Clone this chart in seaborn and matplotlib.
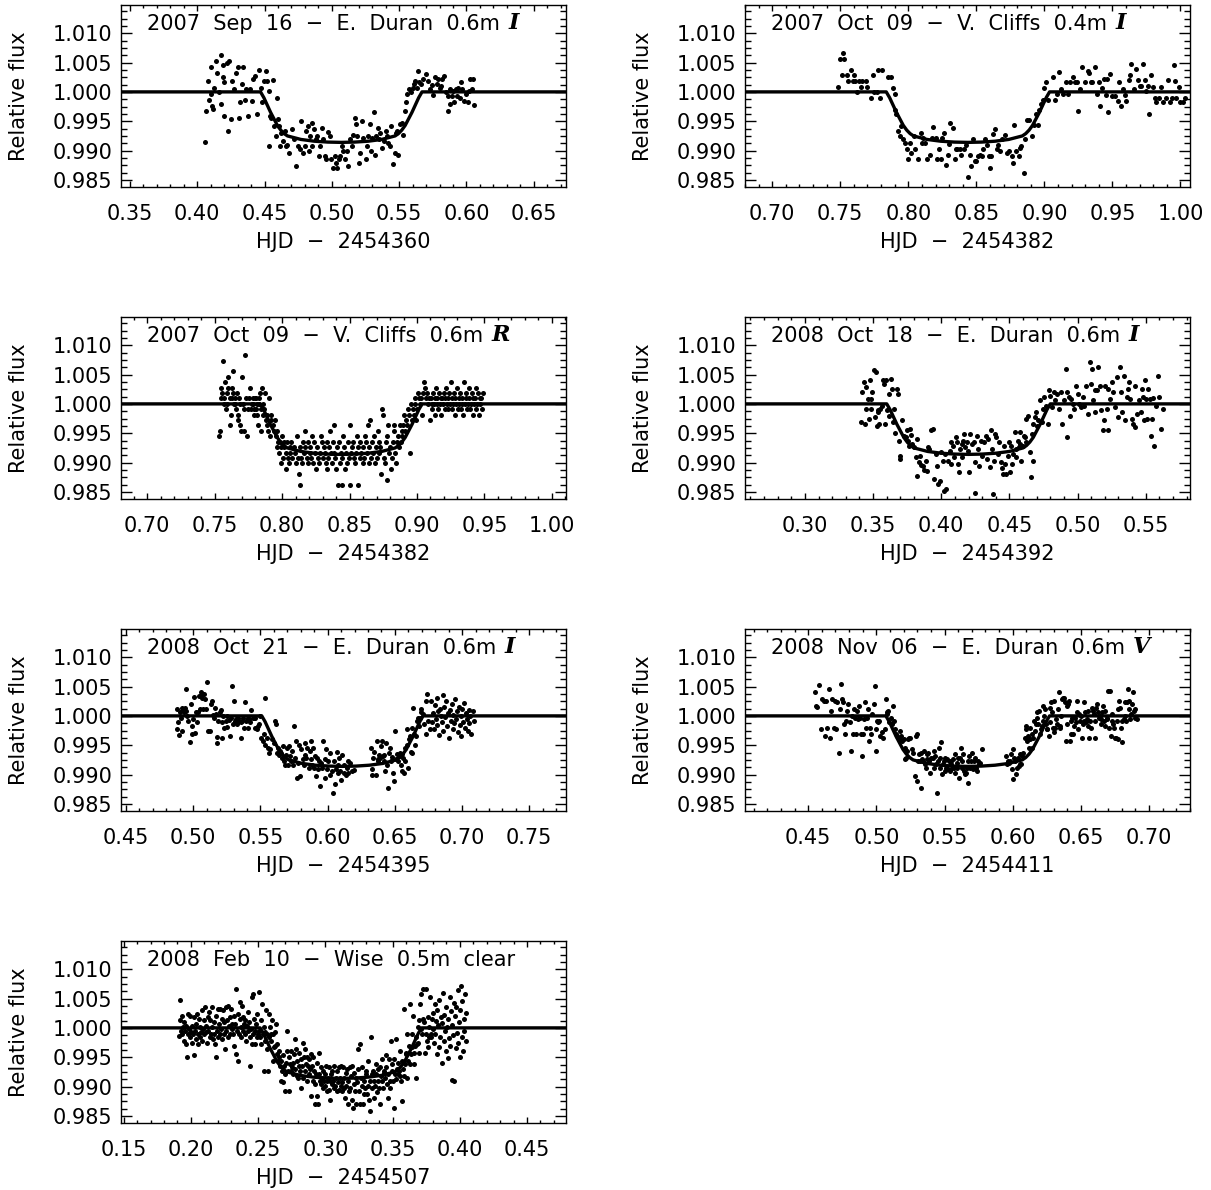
import matplotlib
matplotlib.use("Agg")
import matplotlib.pyplot as plt
import seaborn as sns
from matplotlib.ticker import MultipleLocator, FormatStrFormatter

# ---------------- data (HJD offset, relative flux) ----------------
sep16_pts = [(0.406,0.9914),(0.4065,0.9967),(0.4076,1.0019),(0.409,0.9987),(0.410,0.9996),(0.4105,1.0042),(0.411,0.9976),(0.412,0.9971),(0.4126,1.0007),(0.414,1.0053),(0.415,1.0033),(0.416,0.9999),(0.4175,1.0062),(0.4178,0.9979),(0.419,1.0045),(0.4194,1.0026),(0.4197,0.9959),(0.420,1.0016),(0.422,1.0050),(0.423,0.9933),(0.4235,1.0053),(0.425,0.9953),(0.426,1.0019),(0.427,1.0005),(0.4285,1.0033),(0.430,1.0042),(0.431,0.9956),(0.432,0.9982),(0.433,1.0013),(0.434,1.0042),(0.4355,0.9987),(0.4365,1.0005),(0.438,0.9959),(0.439,1.0005),(0.4405,0.9985),(0.4415,1.0022),(0.443,1.0027),(0.4445,0.9962),(0.446,1.0038),(0.447,1.0007),(0.448,0.9982),(0.4495,1.0019),(0.451,1.0036),(0.452,1.0019),(0.453,1.0002),(0.4535,0.9907),(0.454,0.9959),(0.455,0.9956),(0.456,1.0021),(0.457,0.9942),(0.4585,0.9925),(0.4595,0.9990),(0.460,0.9953),(0.461,0.9942),(0.4615,0.9907),(0.4625,0.9930),(0.464,0.9916),(0.465,0.9933),(0.466,0.9907),(0.467,0.9910),(0.4685,0.9896),(0.4705,0.9937),(0.472,0.9919),(0.4735,0.9873),(0.475,0.9907),(0.476,0.9902),(0.477,0.9950),(0.4785,0.9896),(0.480,0.9907),(0.481,0.9933),(0.482,0.9942),(0.483,0.9899),(0.484,0.9925),(0.485,0.9947),(0.4855,0.9907),(0.487,0.9936),(0.488,0.9920),(0.489,0.9925),(0.4905,0.9890),(0.4915,0.9907),(0.4925,0.9939),(0.4935,0.9920),(0.495,0.9890),(0.496,0.9885),(0.497,0.9931),(0.4985,0.9925),(0.4995,0.9885),(0.501,0.9870),(0.502,0.9890),(0.503,0.9879),(0.504,0.9870),(0.505,0.9885),(0.506,0.9890),(0.5075,0.9907),(0.5085,0.9899),(0.510,0.9885),(0.511,0.9899),(0.512,0.9873),(0.5135,0.9919),(0.515,0.9907),(0.5155,0.9927),(0.517,0.9956),(0.518,0.9945),(0.519,0.9925),(0.520,0.9879),(0.521,0.9896),(0.5225,0.9950),(0.5235,0.9922),(0.525,0.9885),(0.526,0.9907),(0.527,0.9925),(0.528,0.9945),(0.529,0.9899),(0.530,0.9922),(0.531,0.9965),(0.532,0.9893),(0.533,0.9925),(0.534,0.9939),(0.535,0.9919),(0.536,0.9930),(0.5375,0.9905),(0.5385,0.9916),(0.540,0.9933),(0.541,0.9925),(0.542,0.9913),(0.543,0.9907),(0.5443,0.9942),(0.5455,0.9878),(0.547,0.9896),(0.548,0.9930),(0.5485,0.9933),(0.5495,0.9893),(0.551,0.9945),(0.552,0.9947),(0.553,0.9927),(0.554,0.9967),(0.555,0.9982),(0.556,0.9996),(0.557,1.0005),(0.5585,0.9999),(0.560,1.0007),(0.561,1.0013),(0.562,1.0019),(0.563,1.0007),(0.564,1.0036),(0.565,1.0016),(0.5665,1.0013),(0.568,1.0022),(0.570,1.0030),(0.5715,1.0018),(0.573,1.0005),(0.5745,1.0012),(0.5755,0.9995),(0.5767,1.0025),(0.578,1.0013),(0.579,1.0022),(0.580,1.0007),(0.581,1.0010),(0.582,1.0022),(0.583,1.0027),(0.5845,0.9999),(0.586,0.9967),(0.5865,0.9993),(0.5875,1.0005),(0.588,0.9979),(0.589,0.9993),(0.590,1.0002),(0.591,0.9982),(0.592,1.0005),(0.593,0.9993),(0.594,1.0007),(0.595,0.9990),(0.596,1.0016),(0.597,1.0005),(0.598,0.9985),(0.5995,0.9996),(0.601,0.9982),(0.602,1.0002),(0.603,1.0022),(0.604,1.0005),(0.605,1.0022),(0.6055,0.9977)]

oct09a_pts = [(0.748,1.0009),(0.7495,1.0056),(0.751,1.0029),(0.752,1.0066),(0.753,1.0056),(0.755,1.0029),(0.756,1.0019),(0.758,1.0037),(0.759,1.0019),(0.760,1.0029),(0.761,1.0019),(0.7625,0.9999),(0.764,1.0019),(0.765,1.0009),(0.766,1.0019),(0.769,1.0019),(0.770,1.0009),(0.7725,0.9989),(0.774,1.0029),(0.775,0.9999),(0.777,0.9999),(0.778,1.0037),(0.779,0.9989),(0.781,1.0037),(0.785,1.0026),(0.787,1.0026),(0.789,1.0007),(0.7905,0.9997),(0.790,0.9970),(0.791,0.9962),(0.7925,0.9933),(0.794,0.9925),(0.795,0.9942),(0.796,0.9919),(0.7975,0.9913),(0.799,0.9902),(0.800,0.9886),(0.801,0.9913),(0.802,0.9896),(0.804,0.9925),(0.805,0.9903),(0.807,0.9886),(0.809,0.9930),(0.810,0.9913),(0.811,0.9922),(0.8125,0.9913),(0.814,0.9886),(0.816,0.9893),(0.8175,0.9922),(0.818,0.9941),(0.820,0.9922),(0.821,0.9886),(0.8225,0.9903),(0.824,0.9886),(0.825,0.9922),(0.826,0.9930),(0.8275,0.9875),(0.829,0.9893),(0.830,0.9912),(0.831,0.9947),(0.8325,0.9939),(0.834,0.9885),(0.835,0.9902),(0.836,0.9902),(0.838,0.9902),(0.839,0.9893),(0.841,0.9902),(0.8425,0.9910),(0.844,0.9855),(0.845,0.9893),(0.846,0.9873),(0.8475,0.9919),(0.849,0.9882),(0.850,0.9882),(0.851,0.9890),(0.8525,0.9893),(0.854,0.9890),(0.855,0.9902),(0.856,0.9919),(0.8575,0.9909),(0.859,0.9890),(0.860,0.9870),(0.861,0.9890),(0.8625,0.9929),(0.864,0.9937),(0.865,0.9902),(0.866,0.9909),(0.8675,0.9899),(0.869,0.9919),(0.871,0.9926),(0.8725,0.9896),(0.874,0.9899),(0.876,0.9890),(0.877,0.9879),(0.878,0.9943),(0.8795,0.9899),(0.881,0.9890),(0.882,0.9905),(0.883,0.9907),(0.885,0.9861),(0.886,0.9920),(0.8875,0.9952),(0.889,0.9952),(0.891,0.9925),(0.892,0.9943),(0.894,0.9962),(0.895,0.9943),(0.896,0.9970),(0.8975,0.9979),(0.899,0.9987),(0.900,1.0006),(0.901,1.0016),(0.903,0.9987),(0.906,1.0025),(0.9075,0.9987),(0.909,0.9996),(0.911,1.0034),(0.9125,1.0005),(0.914,0.9996),(0.916,1.0016),(0.9175,0.9996),(0.919,1.0016),(0.921,1.0025),(0.9225,1.0016),(0.924,1.0016),(0.925,0.9967),(0.926,1.0005),(0.928,1.0042),(0.930,1.0016),(0.932,1.0036),(0.933,1.0033),(0.934,1.0016),(0.935,1.0016),(0.937,1.0042),(0.939,0.9996),(0.940,1.0016),(0.941,0.9976),(0.9425,1.0007),(0.944,1.0022),(0.945,0.9994),(0.946,1.0022),(0.947,0.9966),(0.948,1.0030),(0.950,0.9993),(0.952,0.9993),(0.954,0.9985),(0.955,1.0017),(0.956,0.9976),(0.9575,1.0005),(0.959,0.9994),(0.960,0.9985),(0.962,1.0021),(0.963,1.0029),(0.964,1.0047),(0.966,1.0005),(0.967,1.0039),(0.969,1.0021),(0.970,1.0010),(0.971,1.0010),(0.9725,1.0047),(0.974,1.0021),(0.9745,1.0002),(0.976,1.0010),(0.977,0.9963),(0.978,1.0029),(0.980,1.0009),(0.981,0.9990),(0.982,0.9982),(0.984,0.9990),(0.986,1.0009),(0.9875,0.9982),(0.989,0.9990),(0.991,1.0021),(0.992,0.9982),(0.994,0.9990),(0.995,1.0046),(0.996,1.0019),(0.997,0.9990),(0.999,1.0009),(1.000,0.9982),(1.002,0.9982),(1.003,0.9990)]

oct09b_pts = [(0.7529,0.99448),(0.7537,0.9954),(0.7544,1.00092),(0.7549,1.00276),(0.7554,1.00184),(0.7561,1.00736),(0.7568,1.00092),(0.7573,1.00368),(0.7581,0.99908),(0.7588,1.00184),(0.7598,1.0046),(0.7602,1.00276),(0.7610,1.00092),(0.7617,0.99632),(0.7622,0.99816),(0.7629,1.00276),(0.7634,1.00552),(0.7639,1.00184),(0.7646,1.0),(0.7654,1.00092),(0.7659,0.99908),(0.7666,1.00184),(0.7671,0.99816),(0.7676,0.99724),(0.7683,1.00092),(0.7690,0.99632),(0.7695,0.9954),(0.7703,1.0046),(0.7710,1.0),(0.7715,0.9954),(0.7724,1.00828),(0.7732,1.00092),(0.7739,0.99448),(0.7749,0.99908),(0.7756,1.00092),(0.7764,1.00276),(0.7773,1.0),(0.7781,1.00092),(0.7788,0.99816),(0.7793,0.99908),(0.7800,1.00092),(0.7805,0.99908),(0.7812,1.0),(0.7817,0.99816),(0.7822,0.99632),(0.7829,1.00092),(0.7837,1.00184),(0.7842,0.9954),(0.7846,0.99908),(0.7854,1.00276),(0.7861,0.99816),(0.7866,0.99908),(0.7871,1.00184),(0.7878,0.99724),(0.7886,0.99816),(0.7890,0.99632),(0.7895,0.9954),(0.7903,1.00092),(0.7910,0.99448),(0.7915,0.99816),(0.7920,0.99724),(0.7566,1.0),(0.7593,1.0),(0.7627,1.00092),(0.7651,1.0),(0.7688,1.0),(0.7720,0.99908),(0.7768,0.99908),(0.7785,1.0),(0.7808,1.00092),(0.7832,1.0),(0.7859,1.0),
(0.7934,0.99632),(0.7939,0.9954),(0.7947,0.99724),(0.7951,0.99448),(0.7959,0.9954),(0.7964,0.99264),(0.7968,0.99356),(0.7976,0.99172),(0.7983,0.99356),(0.7988,0.98988),(0.7995,0.99264),(0.8000,0.99448),(0.8008,0.9908),(0.8012,0.99356),(0.8017,0.99264),(0.8025,0.99172),(0.8032,0.98896),(0.8037,0.99356),(0.8044,0.9908),(0.8049,0.98988),(0.8056,0.99264),(0.8061,0.99172),(0.8069,0.99356),(0.8076,0.9908),(0.8086,0.99264),
(0.8098,0.99172),(0.8105,0.98988),(0.8110,0.99448),(0.8117,0.9908),(0.8125,0.98804),(0.8130,0.9862),(0.8134,0.99264),(0.8142,0.9908),(0.8149,0.98988),(0.8154,0.99356),(0.8161,0.99172),(0.8169,0.99264),(0.8173,0.9954),(0.8183,0.9908),(0.8191,0.98988),(0.8195,0.99356),(0.8203,0.99264),(0.8208,0.99172),(0.8217,0.9908),(0.8225,0.99448),(0.8232,0.98988),(0.8239,0.99356),(0.8247,0.99172),(0.8252,0.98896),(0.8259,0.99264),(0.8266,0.9908),(0.8273,0.98988),(0.8281,0.99172),(0.8288,0.99448),(0.8295,0.99356),(0.8300,0.9908),(0.8308,0.99264),(0.8315,0.99172),(0.8322,0.98988),(0.8330,0.99356),(0.8334,0.98896),(0.8342,0.9908),(0.8349,0.99264),(0.8356,0.9954),(0.8364,0.99172),(0.8369,0.98988),(0.8376,0.99356),(0.8383,0.99632),(0.8388,0.99172),(0.8395,0.9908),(0.8403,0.98896),(0.8410,0.99264),(0.8417,0.9862),(0.8422,0.99356),(0.8427,0.98988),(0.8435,0.99172),(0.8442,0.9862),(0.8447,0.9908),(0.8452,0.99448),(0.8459,0.99264),(0.8466,0.98896),(0.8471,0.99172),(0.8478,0.98988),(0.8486,0.99356),(0.8493,0.9908),(0.8500,0.9862),(0.8505,0.99632),(0.8513,0.99172),(0.8520,0.99264),(0.8525,0.99356),(0.8532,0.9908),(0.8539,0.98988),(0.8547,0.99172),(0.8554,0.99448),(0.8559,0.99264),(0.8566,0.9862),(0.8574,0.9908),(0.8581,0.99356),(0.8588,0.99172),(0.8596,0.98988),(0.8603,0.99264),(0.8608,0.9908),(0.8615,0.99448),(0.8622,0.99356),(0.8630,0.99172),(0.8637,0.99632),(0.8642,0.98988),(0.8647,0.99264),(0.8654,0.99724),(0.8661,0.9908),(0.8669,0.99356),(0.8676,0.99172),(0.8683,0.99448),(0.8691,0.98988),(0.8696,0.99264),(0.8703,0.9908),(0.8710,0.9954),(0.8715,0.99356),(0.8720,0.99172),(0.8727,0.99264),(0.8735,0.98804),(0.8742,0.99908),(0.8747,0.99816),(0.8754,0.9908),(0.8761,0.98988),(0.8769,0.99356),(0.8774,0.99448),(0.8781,0.98712),(0.8788,0.99632),(0.8793,0.99172),(0.8801,0.99264),(0.8808,0.98896),(0.8813,0.9908),(0.8820,0.99356),(0.8827,0.9954),(0.8832,0.99632),(0.8840,0.99172),(0.8847,0.98988),(0.8854,0.99356),(0.8862,0.99448),(0.8866,0.99264),(0.8871,0.99632),
(0.8879,0.99356),(0.8886,0.99448),(0.8891,0.9954),(0.8898,0.99632),(0.8905,0.99816),(0.8913,0.9954),(0.8920,0.99724),(0.8927,0.99632),(0.8935,0.99908),(0.8942,0.99816),(0.8949,0.99172),(0.8954,1.0),(0.8962,0.99724),(0.8969,0.99908),(0.8976,0.99816),(0.8984,1.00092),(0.8988,1.0),(0.8996,0.99724),(0.9003,0.99908),(0.9008,1.00184),(0.9015,1.00092),(0.9023,1.0),(0.9030,1.00092),(0.9037,0.99816),(0.9045,1.00184),(0.9052,1.00368),(0.9059,1.00276),(0.9066,1.00092),(0.9074,1.00184),(0.9081,1.0),(0.9088,1.00092),(0.9096,0.99724),
(0.9102,1.00092),(0.9108,1.0),(0.9112,0.99908),(0.9118,1.00184),(0.9124,1.0),(0.9130,1.00092),(0.9135,0.99816),(0.9141,1.00276),(0.9147,1.0),(0.9152,1.00092),(0.9158,0.99908),(0.9163,1.00184),(0.9170,1.0),(0.9176,1.00092),(0.9181,0.99816),(0.9187,1.00092),(0.9193,1.0),(0.9199,1.00184),(0.9205,0.99908),(0.9210,1.00092),(0.9216,1.00276),(0.9222,1.0),(0.9228,0.99908),(0.9233,1.00092),(0.9239,1.00184),(0.9245,1.0),(0.9250,1.00368),(0.9256,0.99908),(0.9262,1.00092),(0.9268,1.0),(0.9274,1.00184),(0.9279,0.99816),(0.9285,1.00092),(0.9291,1.0),(0.9297,1.00276),(0.9302,0.99908),(0.9308,1.0),(0.9314,1.00092),(0.9320,1.00184),(0.9325,0.99908),(0.9331,1.0),(0.9337,1.00092),(0.9343,0.99816),(0.9349,1.00368),(0.9354,1.0),(0.9360,1.00092),(0.9366,1.00184),(0.9372,0.99908),(0.9377,1.0),(0.9383,1.00276),(0.9389,1.00092),(0.9395,0.99908),(0.9401,1.0),(0.9406,1.00184),(0.9412,1.00092),(0.9418,0.99816),(0.9424,1.0),(0.9430,1.00092),(0.9435,1.00276),(0.9441,0.99908),(0.9447,1.0),(0.9453,1.00184),(0.9458,0.99816),(0.9464,1.00092),(0.9470,1.0),(0.9476,1.00092),(0.9482,0.99908),(0.9488,1.00184)]

oct18_pts = [(0.3413,0.9970),(0.342,1.0020),(0.343,1.0038),(0.3438,0.9966),(0.3445,0.9991),(0.345,1.0028),(0.3463,1.0009),(0.347,0.9974),(0.3475,1.0040),(0.3483,1.0009),(0.3488,0.9991),(0.3495,1.0020),(0.3505,1.0057),(0.3513,0.9977),(0.352,1.0055),(0.3525,0.9963),(0.3533,0.9986),(0.3538,0.9989),(0.3545,0.9966),(0.355,0.9991),(0.3563,0.9997),(0.3575,1.0040),(0.3583,1.0034),(0.3588,0.9966),(0.3595,1.0040),(0.360,0.9989),(0.3613,0.9980),(0.362,1.0017),(0.363,1.0043),(0.3638,1.0026),(0.3645,0.9969),(0.3655,0.9991),(0.3663,0.9951),(0.3675,1.0026),(0.3683,1.0017),
(0.3688,0.9937),(0.3695,0.9912),(0.370,0.9906),(0.3713,0.9972),(0.3725,0.9946),(0.3738,0.9943),(0.375,0.9956),(0.3755,0.9937),(0.3763,0.9929),(0.377,0.9957),(0.3775,0.9947),(0.3788,0.9932),(0.380,0.9926),(0.3813,0.9909),(0.382,0.9878),(0.3825,0.9940),(0.3838,0.9901),(0.3845,0.9912),(0.385,0.9896),(0.3863,0.9895),(0.3875,0.9887),(0.3888,0.9903),(0.3895,0.9885),(0.390,0.9926),(0.3913,0.9924),(0.3925,0.9956),(0.3938,0.9957),(0.395,0.9872),(0.3963,0.9915),(0.397,0.9895),(0.3975,0.9864),(0.3988,0.9869),(0.400,0.9918),(0.4013,0.9903),(0.402,0.9852),(0.403,0.9915),(0.4038,0.9855),(0.405,0.9903),(0.4063,0.9920),(0.407,0.9898),(0.4075,0.9935),(0.4088,0.9929),(0.4095,0.9909),(0.4105,0.9943),(0.4113,0.9935),(0.412,0.9898),(0.413,0.9884),(0.4138,0.9923),(0.415,0.9932),(0.4155,0.9909),(0.4163,0.9937),(0.417,0.9949),(0.4175,0.9926),(0.4188,0.9935),(0.4195,0.9920),(0.420,0.9884),(0.4213,0.9949),(0.4225,0.9932),(0.4238,0.9935),(0.4245,0.9901),(0.425,0.9849),(0.4263,0.9946),(0.427,0.9923),(0.428,0.9895),(0.4288,0.9937),(0.430,0.9912),(0.4313,0.9935),(0.4325,0.9946),(0.4338,0.9906),(0.4345,0.9940),(0.4355,0.9892),(0.4363,0.9955),(0.437,0.9923),(0.438,0.9847),(0.4388,0.9903),(0.4395,0.9949),(0.440,0.9943),(0.4413,0.9915),(0.4425,0.9935),(0.4438,0.9901),(0.4445,0.9890),(0.445,0.9881),(0.4463,0.9929),(0.447,0.9898),(0.4475,0.9881),(0.4488,0.9912),(0.4495,0.9935),(0.4505,0.9884),(0.4513,0.9929),(0.452,0.9898),(0.4525,0.9915),(0.4538,0.9952),(0.4545,0.9923),(0.455,0.9909),(0.4563,0.9937),(0.457,0.9926),(0.4575,0.9932),(0.458,0.9952),(0.4588,0.9903),(0.460,0.9929),(0.4605,0.9946),(0.4613,0.9943),(0.462,0.9974),(0.4625,0.9935),(0.4638,0.9980),(0.465,0.9918),(0.4655,0.9875),(0.4663,0.9949),(0.467,0.9903),(0.4675,0.9966),(0.4688,0.9977),(0.4695,0.9986),(0.4705,0.9963),(0.4713,0.9972),(0.4725,1.0006),(0.4738,0.9969),(0.475,0.9991),(0.4755,1.0011),(0.477,0.9997),(0.478,0.9966),(0.4788,1.0023),(0.480,1.0014),
(0.4813,0.9994),(0.4825,1.0020),(0.4838,1.0006),(0.485,1.0017),(0.4863,0.9991),(0.4875,1.0020),(0.4888,0.9966),(0.490,1.0006),(0.4913,1.0060),(0.492,0.9943),(0.4925,1.0020),(0.4938,1.0011),(0.4945,0.9980),(0.495,1.0009),(0.4963,1.0000),(0.4975,0.9991),(0.4988,1.0031),(0.500,1.0017),(0.5013,1.0000),(0.5025,0.9994),(0.5038,1.0011),(0.505,0.9997),(0.5063,1.0031),(0.5075,0.9983),(0.5088,1.0071),(0.510,1.0034),(0.5105,1.0060),(0.5113,1.0006),(0.5125,0.9986),(0.513,1.0023),(0.5145,1.0023),(0.515,1.0062),(0.5163,1.0031),(0.5175,0.9989),(0.5188,0.9955),(0.5195,0.9972),(0.5205,1.0031),(0.5213,0.9991),(0.522,0.9955),(0.5225,1.0026),(0.5238,1.0009),(0.525,1.0037),(0.5263,1.0020),(0.5275,0.9994),(0.5288,1.0045),(0.530,0.9977),(0.5313,1.0062),(0.532,1.0020),(0.5325,0.9986),(0.5338,1.0048),(0.535,0.9972),(0.5363,1.0011),(0.537,1.0026),(0.538,1.0037),(0.5388,1.0009),(0.540,0.9974),(0.5405,0.9966),(0.542,0.9960),(0.5425,1.0031),(0.5438,0.9983),(0.545,1.0006),(0.5463,0.9986),(0.547,1.0026),(0.548,1.0011),(0.5488,0.9972),(0.5495,1.0040),(0.5505,1.0009),(0.5513,0.9974),(0.552,1.0026),(0.553,1.0009),(0.5538,0.9946),(0.5545,0.9974),(0.555,1.0010),(0.5563,0.9929),(0.5575,0.9997),(0.5588,1.0048),(0.560,1.0011),(0.5613,0.9957),(0.5625,0.9991)]

oct21_pts = [(0.4878,1.0011),(0.4883,0.9977),(0.4890,0.9989),(0.4895,0.9967),(0.4902,1.0006),(0.4907,0.9997),(0.4915,0.9974),(0.4920,1.0014),(0.4927,1.0010),(0.4932,1.0006),(0.4939,1.0013),(0.4944,1.0009),(0.4949,1.0046),(0.4957,1.0000),(0.4964,0.9991),(0.4974,0.9956),(0.4981,1.0020),(0.4989,0.9983),(0.4994,0.9969),(0.5001,0.9994),(0.5008,1.0033),(0.5013,0.9971),(0.5018,1.0006),(0.5026,0.9990),(0.5033,1.0006),(0.5043,1.0034),(0.5048,1.0011),(0.5055,1.0040),(0.5063,1.0030),(0.5068,1.0038),(0.5075,1.0011),(0.5083,1.0038),(0.5088,1.0029),(0.5097,1.0011),(0.5105,1.0057),(0.5112,0.9975),(0.5122,0.9975),(0.5130,1.0020),(0.5137,1.0026),(0.5147,1.0002),(0.5154,0.9997),(0.5162,1.0013),(0.5167,1.0004),(0.5174,0.9964),(0.5179,0.9953),(0.5186,0.9991),(0.5196,1.0007),(0.5204,1.0010),(0.5211,0.9962),(0.5216,0.9989),(0.5221,1.0000),(0.5231,0.9980),(0.5241,0.9991),(0.5248,0.9981),(0.5255,1.0000),(0.5265,0.9993),(0.5273,0.9966),(0.5283,0.9997),(0.5290,1.0051),(0.5297,0.9986),(0.5305,1.0026),(0.5310,0.9991),(0.5320,0.9994),(0.5327,0.9986),(0.5335,0.9997),(0.5344,0.9991),(0.5352,0.9989),(0.5359,0.9963),(0.5364,0.9991),(0.5372,0.9997),(0.5379,0.9980),(0.5389,1.0023),(0.5396,0.9991),(0.5404,0.9997),(0.5409,0.9980),(0.5418,0.9994),(0.5426,0.9989),(0.5433,1.0010),(0.5443,0.9997),(0.5451,0.9997),(0.5458,0.9980),(0.5463,0.9996),(0.5475,0.9977),(0.5483,0.9983),(0.5493,0.9986),(0.5500,1.0000),(0.5507,0.9962),(0.5517,0.9957),(0.5525,0.9969),(0.5532,1.0031),(0.5537,0.9951),(0.5549,0.9963),(0.5557,0.9945),(0.5567,0.9937),(0.5574,0.9944),(0.5586,0.9960),(0.5599,0.9954),(0.5606,0.9991),(0.5616,0.9986),(0.5624,0.9937),(0.5631,0.9946),(0.5636,0.9934),(0.5643,0.9940),(0.5651,0.9937),(0.5661,0.9929),(0.5668,0.9949),(0.5675,0.9923),(0.5685,0.9916),(0.5690,0.9934),(0.5698,0.9946),(0.5705,0.9916),(0.5710,0.9949),(0.5717,0.9931),(0.5725,0.9923),(0.5735,0.9940),(0.5742,0.9917),(0.5749,0.9983),(0.5759,0.9929),(0.5767,0.9957),(0.5774,0.9894),(0.5779,0.9920),(0.5789,0.9951),(0.5796,0.9897),(0.5804,0.9943),(0.5814,0.9926),(0.5821,0.9917),(0.5829,0.9954),(0.5833,0.9934),(0.5841,0.9929),(0.5848,0.9946),(0.5858,0.9911),(0.5866,0.9940),(0.5873,0.9957),(0.5878,0.9926),(0.5883,0.9917),(0.5890,0.9946),(0.5898,0.9911),(0.5908,0.9931),(0.5915,0.9897),(0.5922,0.9929),(0.5932,0.9909),(0.5937,0.9923),(0.5945,0.9880),(0.5952,0.9920),(0.5959,0.9911),(0.5969,0.9958),(0.5977,0.9926),(0.5982,0.9894),(0.5989,0.9943),(0.5996,0.9909),(0.6006,0.9923),(0.6014,0.9900),(0.6021,0.9937),(0.6031,0.9906),(0.6038,0.9869),(0.6046,0.9923),(0.6056,0.9884),(0.6061,0.9909),(0.6068,0.9939),(0.6076,0.9903),(0.6080,0.9917),(0.6088,0.9929),(0.6095,0.9906),(0.6100,0.9891),(0.6110,0.9934),(0.6118,0.9903),(0.6125,0.9917),(0.6135,0.9900),(0.6142,0.9911),(0.6150,0.9903),(0.6155,0.9923),(0.6167,0.9920),(0.6179,0.9906),(0.6194,0.9907),
(0.6323,0.9946),(0.6327,0.9900),(0.6332,0.9909),(0.6340,0.9929),(0.6347,0.9939),(0.6357,0.9899),(0.6365,0.9958),(0.6372,0.9923),(0.6377,0.9926),(0.6382,0.9934),(0.6389,0.9929),(0.6394,0.9949),(0.6402,0.9957),(0.6409,0.9931),(0.6416,0.9923),(0.6421,0.9934),(0.6426,0.9906),(0.6431,0.9954),(0.6439,0.9917),(0.6446,0.9877),(0.6456,0.9937),(0.6463,0.9946),(0.6471,0.9924),(0.6481,0.9930),(0.6488,0.9903),(0.6495,0.9889),(0.6500,0.9974),(0.6505,0.9926),(0.6513,0.9935),(0.6520,0.9923),(0.6530,0.9931),(0.6537,0.9937),(0.6545,0.9917),(0.6550,0.9906),(0.6555,0.9935),(0.6562,0.9929),(0.6570,0.9903),(0.6574,0.9945),(0.6579,0.9923),(0.6587,0.9951),(0.6594,0.9977),(0.6599,0.9911),(0.6604,0.9960),(0.6612,0.9966),(0.6619,0.9939),(0.6624,0.9937),(0.6631,0.9980),(0.6636,1.0014),(0.6644,0.9969),(0.6649,0.9951),(0.6656,0.9966),(0.6663,0.9991),(0.6673,0.9997),(0.6678,0.9983),(0.6686,0.9996),(0.6693,1.0011),(0.6698,1.0006),(0.6710,1.0003),(0.6718,0.9986),(0.6728,0.9969),(0.6735,1.0026),(0.6742,1.0038),(0.6747,0.9991),(0.6760,0.9977),(0.6767,1.0026),(0.6777,0.9989),
(0.6785,1.0005),(0.6792,0.9978),(0.6798,1.0018),(0.6803,0.9995),(0.6810,1.0030),(0.6815,0.9985),(0.6822,1.0008),(0.6828,0.9968),(0.6835,1.0012),(0.6842,1.0000),(0.6848,0.9990),(0.6855,1.0035),(0.6860,0.9975),(0.6868,1.0015),(0.6875,0.9998),(0.6882,1.0025),(0.6888,0.9982),(0.6895,1.0005),(0.6902,0.9962),(0.6908,1.0010),(0.6915,0.9992),(0.6922,1.0020),(0.6930,0.9978),(0.6935,1.0002),(0.6942,0.9988),(0.6950,1.0028),(0.6955,0.9995),(0.6962,1.0008),(0.6970,0.9972),(0.6975,1.0015),(0.6982,0.9985),(0.6990,1.0000),(0.6995,0.9965),(0.7002,1.0012),(0.7010,0.9990),(0.7015,1.0022),(0.7022,0.9980),(0.7030,1.0005),(0.7035,0.9995),(0.7042,0.9975),(0.7050,1.0010),(0.7055,0.9988),(0.7062,1.0000),(0.7070,0.9970),(0.7078,1.0008),(0.7085,0.9992)]

nov06_pts = [(0.455,1.0040),(0.4558,1.0017),(0.4568,1.0015),(0.458,1.0053),(0.4595,0.9977),(0.4605,1.0028),(0.4613,1.0026),(0.462,0.9966),(0.463,1.0026),(0.4638,0.9980),(0.465,1.0045),(0.4658,0.9963),(0.467,1.0009),(0.4675,1.0028),(0.4688,0.9980),(0.4695,1.0026),(0.4705,0.9977),(0.4713,1.0023),(0.4725,0.9937),(0.473,1.0011),(0.4738,1.0054),(0.4745,1.0028),(0.4755,1.0023),(0.4763,0.9986),(0.477,0.9969),(0.4775,0.9991),(0.4788,1.0009),(0.4795,1.0020),(0.4805,0.9989),(0.4813,0.9940),(0.482,1.0000),(0.483,0.9969),(0.4838,1.0011),(0.4845,0.9997),(0.485,0.9969),(0.4855,1.0009),(0.4863,0.9994),(0.487,1.0017),(0.488,0.9997),(0.4888,0.9969),(0.4895,0.9932),(0.490,0.9969),(0.4913,0.9994),(0.492,1.0023),(0.4925,0.9980),(0.493,0.9997),(0.4938,1.0011),(0.4945,0.9957),(0.4955,0.9980),(0.4963,0.9969),(0.497,1.0003),(0.498,1.0020),(0.4988,1.0051),(0.4995,0.9977),(0.500,0.9940),(0.5005,0.9991),(0.5013,0.9989),(0.502,0.9991),(0.503,0.9966),(0.5038,0.9972),(0.505,0.9963),(0.5063,0.9977),(0.507,1.0028),(0.5075,1.0006),(0.508,1.0003),(0.5088,1.0009),(0.5095,0.9989),(0.5105,0.9997),(0.5113,0.9986),(0.512,1.0017),(0.513,0.9991),
(0.5138,0.9977),(0.5145,0.9969),(0.515,0.9966),(0.5163,0.9963),(0.517,0.9960),(0.5175,0.9974),(0.518,0.9966),(0.5188,0.9957),(0.520,0.9960),(0.5208,0.9946),(0.5213,0.9926),(0.522,0.9929),(0.5225,0.9940),(0.523,0.9960),(0.5238,0.9963),(0.525,0.9963),(0.5263,0.9943),(0.527,0.9937),(0.528,0.9898),(0.5288,0.9966),(0.5295,0.9969),(0.530,0.9889),(0.5305,0.9923),(0.5313,0.9935),(0.532,0.9923),(0.5325,0.9878),(0.533,0.9937),(0.5338,0.9926),(0.5345,0.9923),(0.535,0.9940),(0.5355,0.9918),(0.5363,0.9912),(0.537,0.9935),(0.5375,0.9926),(0.538,0.9937),(0.5388,0.9923),(0.5395,0.9903),(0.540,0.9929),(0.5413,0.9929),(0.542,0.9912),(0.5425,0.9940),(0.5433,0.9932),(0.544,0.9918),(0.5445,0.9869),(0.545,0.9923),(0.5458,0.9946),(0.5465,0.9912),(0.547,0.9929),(0.5475,0.9955),(0.548,0.9901),(0.5488,0.9918),(0.5495,0.9923),(0.550,0.9906),(0.5505,0.9929),(0.5513,0.9912),(0.552,0.9926),(0.5525,0.9909),(0.553,0.9923),(0.5538,0.9906),(0.5545,0.9918),(0.555,0.9923),(0.5558,0.9912),(0.5563,0.9926),(0.557,0.9912),(0.5575,0.9903),(0.558,0.9935),(0.5588,0.9912),(0.5595,0.9920),(0.560,0.9929),(0.5608,0.9895),(0.5613,0.9929),(0.5618,0.9946),(0.5625,0.9912),(0.563,0.9923),(0.5638,0.9935),(0.5645,0.9906),(0.565,0.9901),(0.5655,0.9903),(0.5663,0.9912),(0.567,0.9886),(0.5675,0.9923),(0.5683,0.9932),(0.569,0.9912),(0.5695,0.9923),(0.570,0.9937),(0.5708,0.9909),(0.5715,0.9923),(0.5725,0.9929),(0.573,0.9912),(0.5738,0.9906),(0.5745,0.9923),(0.575,0.9918),(0.5763,0.9920),(0.5775,0.9943),
(0.595,0.9932),(0.5958,0.9918),(0.5965,0.9923),(0.5975,0.9920),(0.598,0.9923),(0.5988,0.9935),(0.5995,0.9909),(0.600,0.9943),(0.6005,0.9892),(0.6013,0.9929),(0.602,0.9923),(0.6025,0.9901),(0.603,0.9912),(0.6038,0.9929),(0.6045,0.9915),(0.605,0.9918),(0.6055,0.9935),(0.6063,0.9918),(0.607,0.9932),(0.6075,0.9937),(0.6088,0.9963),(0.6095,0.9977),(0.610,0.9983),(0.6105,0.9957),(0.6113,0.9966),(0.612,0.9946),(0.6125,0.9980),(0.613,0.9960),(0.6138,0.9969),(0.6145,0.9946),(0.615,0.9963),(0.6155,0.9991),(0.6163,0.9974),(0.617,0.9986),(0.6175,1.0006),(0.618,0.9997),(0.6188,0.9986),(0.6195,1.0009),(0.620,0.9969),(0.6208,0.9977),(0.6213,0.9983),(0.622,1.0017),(0.6225,0.9991),(0.623,1.0000),(0.6238,1.0011),(0.6245,0.9986),(0.625,0.9977),(0.6255,0.9977),(0.6263,0.9966),(0.627,0.9989),
(0.6275,1.0014),(0.6283,1.0023),(0.6288,1.0006),(0.6295,0.9980),(0.630,0.9972),(0.6305,1.0026),(0.6313,0.9980),(0.632,0.9994),(0.6325,0.9986),(0.633,1.0011),(0.6338,1.0040),(0.6345,0.9980),(0.635,0.9983),(0.6355,1.0000),(0.6363,1.0028),(0.637,1.0031),(0.6375,1.0031),(0.638,1.0023),(0.6388,0.9957),(0.6395,1.0017),(0.640,0.9986),(0.6405,1.0020),(0.6413,1.0026),(0.642,0.9957),(0.6425,0.9969),(0.643,0.9991),(0.6438,0.9997),(0.6445,0.9969),(0.645,0.9983),(0.6455,0.9997),(0.6463,0.9989),(0.647,1.0006),(0.6475,1.0026),(0.648,0.9977),(0.6488,1.0003),(0.6495,0.9991),(0.650,1.0000),(0.6505,0.9963),(0.6513,0.9986),(0.652,0.9991),(0.6525,1.0023),(0.653,1.0006),(0.6538,0.9989),(0.6545,0.9994),(0.655,1.0009),(0.6555,0.9983),(0.6563,0.9963),(0.657,0.9991),(0.6575,0.9980),(0.658,1.0014),(0.6588,1.0009),(0.6595,1.0003),(0.660,0.9963),(0.6605,0.9991),(0.6613,1.0014),(0.662,1.0020),(0.6625,1.0006),(0.663,0.9997),(0.6638,1.0000),(0.6645,0.9994),(0.665,0.9986),(0.6655,1.0006),(0.6663,1.0017),(0.667,0.9991),(0.6675,1.0009),(0.668,0.9983),(0.6688,0.9997),(0.6695,0.9994),(0.670,1.0043),(0.6705,0.9980),(0.6713,1.0043),(0.672,0.9966),(0.6725,0.9991),(0.673,1.0003),(0.6738,0.9986),(0.6745,0.9980),(0.675,0.9963),(0.6755,0.9963),(0.6763,0.9991),(0.677,1.0011),(0.6775,0.9960),(0.678,1.0026),(0.6788,1.0014),(0.6795,0.9980),(0.680,0.9955),(0.6805,0.9991),(0.6813,0.9994),(0.682,1.0023),(0.6825,1.0000),(0.683,0.9991),(0.6838,1.0023),(0.6845,1.0045),(0.685,1.0026),(0.6855,1.0011),(0.6863,0.9994),(0.687,1.0003),(0.6875,1.0020),(0.688,1.0040),(0.6888,1.0009),(0.6895,0.9997),(0.690,1.0011),(0.6913,0.9994)]

feb10_pts = [(0.1912,0.9987),(0.1917,1.0047),(0.1922,1.0013),(0.1927,0.9995),(0.1932,1.0021),(0.1937,0.9990),(0.1942,1.0001),(0.1947,0.9978),(0.1952,1.0010),(0.1957,0.9995),
(0.1962,0.9973),(0.1966,1.0004),(0.1971,0.9950),(0.1976,0.9990),(0.1981,1.0024),(0.1986,0.9998),(0.1991,0.9984),(0.1996,1.0021),(0.2001,0.9993),(0.2006,0.9975),
(0.2011,1.0004),(0.2016,0.9990),(0.2021,0.9953),(0.2026,1.0018),(0.2031,0.9995),(0.2036,0.9981),(0.2041,1.0007),(0.2046,1.0024),(0.2050,0.9990),(0.2055,0.9973),
(0.2060,1.0015),(0.2065,0.9984),(0.2070,1.0001),(0.2075,0.9993),(0.2080,1.0030),(0.2085,0.9978),(0.2090,0.9998),(0.2095,1.0013),(0.2100,0.9990),(0.2105,1.0035),
(0.2110,0.9993),(0.2115,1.0004),(0.2120,0.9975),(0.2125,1.0018),(0.2129,0.9995),(0.2134,1.0027),(0.2139,0.9984),(0.2144,1.0013),(0.2149,0.9990),(0.2154,1.0035),
(0.2159,1.0001),(0.2164,0.9981),(0.2169,1.0010),(0.2174,0.9990),(0.2179,0.9973),(0.2184,0.9950),(0.2189,1.0021),(0.2194,0.9995),(0.2199,1.0033),(0.2204,0.9984),
(0.2209,1.0007),(0.2213,0.9990),(0.2218,1.0033),(0.2223,0.9998),(0.2228,1.0015),(0.2233,0.9981),(0.2238,1.0030),(0.2243,0.9990),(0.2248,1.0010),(0.2253,0.9964),
(0.2258,1.0035),(0.2263,0.9995),(0.2268,1.0013),(0.2273,0.9984),(0.2278,1.0038),(0.2283,1.0004),(0.2288,0.9990),(0.2292,1.0018),(0.2297,1.0033),(0.2302,0.9998),
(0.2307,1.0007),(0.2312,0.9990),(0.2317,1.0021),(0.2322,0.9970),(0.2327,1.0007),(0.2332,0.9955),(0.2337,1.0067),(0.2342,0.9995),(0.2347,0.9944),(0.2352,1.0024),
(0.2357,0.9990),(0.2362,1.0015),(0.2367,1.0044),(0.2371,1.0001),(0.2376,0.9984),(0.2381,1.0038),(0.2386,1.0018),(0.2391,0.9995),(0.2396,1.0007),(0.2401,0.9990),
(0.2406,1.0013),(0.2411,0.9978),(0.2416,1.0004),(0.2421,1.0027),(0.2426,0.9995),(0.2431,1.0010),(0.2436,0.9935),(0.2441,0.9984),(0.2446,0.9998),(0.2451,0.9973),
(0.2456,1.0053),(0.2460,1.0058),(0.2465,0.9990),(0.2470,1.0015),(0.2475,0.9995),(0.2480,0.9973),(0.2485,1.0007),(0.2490,0.9984),(0.2495,1.0024),(0.2500,0.9990),
(0.2505,1.0061),(0.2510,0.9995),(0.2515,0.9984),(0.2520,1.0013),(0.2525,0.9973),(0.2530,1.0040),(0.2535,0.9990),(0.2540,1.0001),(0.2544,0.9927),(0.2549,0.9978),
(0.2554,0.9993),(0.2559,1.0030),(0.2564,0.9964),(0.2569,0.9990),(0.2574,0.9927),(0.2579,0.9984),(0.2584,1.0024),(0.2589,1.0001),(0.2594,0.9990),(0.2599,0.9978),
(0.2604,1.0013),(0.2609,0.9944),(0.2614,0.9990),(0.2619,0.9967),(0.2624,0.9993),(0.2629,0.9970),(0.2633,1.0007),(0.2638,0.9955),(0.2643,0.9973),(0.2648,0.9944),
(0.2653,0.9961),(0.2658,0.9950),(0.2663,0.9935),(0.2668,0.9944),(0.2673,0.9910),(0.2678,0.9927),(0.2683,0.9953),(0.2688,0.9907),(0.2693,0.9935),(0.2698,0.9921),
(0.2703,0.9893),(0.2707,0.9941),(0.2712,0.9961),(0.2717,0.9995),(0.2722,0.9927),(0.2727,0.9893),(0.2732,0.9950),(0.2737,0.9938),(0.2742,0.9927),(0.2747,0.9961),
(0.2752,0.9933),(0.2757,0.9941),(0.2762,0.9921),(0.2767,0.9955),(0.2772,0.9981),(0.2777,0.9930),(0.2782,0.9964),(0.2786,0.9918),(0.2791,0.9944),(0.2796,0.9915),
(0.2801,0.9935),(0.2806,0.9958),(0.2811,0.9927),(0.2816,0.9898),(0.2821,0.9947),(0.2826,0.9935),(0.2831,0.9975),(0.2836,0.9915),(0.2841,0.9950),(0.2846,0.9964),
(0.2851,0.9927),(0.2856,0.9938),(0.2861,0.9950),(0.2866,0.9910),(0.2870,0.9935),(0.2875,0.9921),(0.2880,0.9947),(0.2885,0.9930),(0.2890,0.9955),(0.2895,0.9884),
(0.2900,0.9935),(0.2905,0.9910),(0.2910,0.9950),(0.2915,0.9927),(0.2920,0.9870),(0.2925,0.9904),(0.2930,0.9921),(0.2935,0.9941),(0.2940,0.9884),(0.2945,0.9870),
(0.2950,0.9958),(0.2954,0.9921),(0.2959,0.9910),(0.2964,0.9933),(0.2969,0.9904),(0.2974,0.9915),(0.2979,0.9927),(0.2984,0.9898),(0.2989,0.9910),(0.2994,0.9921),
(0.2999,0.9901),(0.3004,0.9935),(0.3009,0.9910),(0.3014,0.9893),(0.3019,0.9915),(0.3024,0.9933),(0.3029,0.9895),(0.3034,0.9910),(0.3038,0.9878),(0.3043,0.9921),
(0.3048,0.9904),(0.3053,0.9927),(0.3058,0.9910),(0.3063,0.9898),(0.3068,0.9935),(0.3073,0.9901),(0.3078,0.9915),(0.3083,0.9893),(0.3088,0.9927),(0.3093,0.9907),
(0.3098,0.9933),(0.3103,0.9895),(0.3108,0.9915),(0.3113,0.9901),(0.3117,0.9935),(0.3122,0.9893),(0.3127,0.9907),(0.3132,0.9933),(0.3137,0.9898),(0.3142,0.9915),
(0.3147,0.9881),(0.3152,0.9924),(0.3157,0.9901),(0.3162,0.9930),(0.3167,0.9870),(0.3172,0.9910),(0.3177,0.9893),(0.3182,0.9933),(0.3187,0.9898),(0.3192,0.9918),
(0.3197,0.9878),(0.3201,0.9935),(0.3206,0.9864),(0.3211,0.9904),(0.3216,0.9924),(0.3221,0.9893),(0.3226,0.9915),(0.3231,0.9870),(0.3236,0.9907),(0.3241,0.9930),
(0.3246,0.9964),(0.3251,0.9893),(0.3256,0.9973),(0.3261,0.9870),(0.3266,0.9915),(0.3271,0.9901),(0.3276,0.9933),(0.3280,0.9870),(0.3285,0.9887),(0.3290,0.9910),
(0.3295,0.9898),(0.3300,0.9921),(0.3305,0.9927),(0.3310,0.9887),(0.3315,0.9901),(0.3320,0.9944),(0.3325,0.9878),(0.3330,0.9910),(0.3335,0.9858),(0.3340,0.9984),
(0.3345,0.9921),(0.3350,0.9898),(0.3354,0.9927),(0.3359,0.9881),(0.3364,0.9910),(0.3369,0.9901),(0.3374,0.9938),(0.3379,0.9921),(0.3384,0.9890),(0.3389,0.9930),
(0.3394,0.9910),(0.3399,0.9898),(0.3404,0.9933),(0.3409,0.9870),(0.3414,0.9918),(0.3419,0.9947),(0.3424,0.9910),(0.3429,0.9898),(0.3434,0.9924),(0.3439,0.9927),
(0.3444,0.9915),(0.3448,0.9933),(0.3453,0.9953),(0.3458,0.9904),(0.3463,0.9921),(0.3468,0.9881),(0.3473,0.9947),(0.3478,0.9910),(0.3483,0.9898),(0.3488,0.9978),
(0.3493,0.9927),(0.3498,0.9938),(0.3503,0.9910),(0.3508,0.9864),(0.3513,0.9947),(0.3518,0.9921),(0.3522,0.9981),(0.3527,0.9913),(0.3532,0.9930),(0.3537,0.9941),
(0.3542,0.9921),(0.3547,0.9927),(0.3552,0.9961),(0.3557,0.9918),(0.3562,0.9910),(0.3567,0.9875),(0.3572,0.9944),(0.3577,0.9930),(0.3582,0.9918),(0.3587,1.0033),
(0.3592,0.9938),(0.3597,0.9955),(0.3602,0.9958),(0.3606,0.9915),(0.3611,0.9990),(0.3616,0.9944),(0.3621,0.9970),(0.3626,0.9938),(0.3631,1.0041),(0.3636,0.9955),
(0.3641,0.9967),(0.3646,0.9990),(0.3651,1.0021),(0.3656,0.9938),(0.3661,0.9958),(0.3666,0.9970),(0.3671,0.9915),(0.3676,0.9984),(0.3681,0.9973),(0.3686,1.0001),
(0.3691,0.9975),(0.3695,0.9958),(0.3700,1.0013),(0.3705,1.0041),(0.3710,1.0058),(0.3715,0.9998),(0.3720,0.9990),(0.3725,1.0067),(0.3730,1.0015),(0.3735,1.0010),
(0.3740,0.9958),(0.3745,1.0067),(0.3750,0.9990),(0.3755,0.9978),(0.3760,1.0018),(0.3765,0.9967),(0.3770,0.9984),(0.3774,1.0001),(0.3779,1.0053),(0.3784,0.9990),
(0.3789,0.9984),(0.3794,1.0015),(0.3799,0.9998),
(0.3804,1.0025),(0.3809,0.9975),(0.3814,1.0040),(0.3819,0.9990),(0.3824,1.0012),(0.3829,0.9955),(0.3834,1.0030),(0.3839,1.0005),(0.3844,0.9968),(0.3849,1.0048),(0.3854,0.9985),(0.3859,1.0018),(0.3864,0.9940),(0.3869,1.0008),(0.3874,1.0060),(0.3879,0.9978),(0.3884,1.0022),(0.3889,0.9995),(0.3894,0.9960),(0.3899,1.0035),(0.3904,1.0002),(0.3909,0.9948),(0.3914,1.0015),(0.3919,0.9982),(0.3924,1.0052),(0.3929,0.9970),(0.3934,1.0028),(0.3939,0.9912),(0.3944,1.0005),(0.3949,0.9988),(0.3954,1.0042),(0.3959,0.9910),(0.3964,1.0020),(0.3969,0.9965),(0.3974,1.0035),(0.3979,0.9992),(0.3984,1.0065),(0.3989,0.9975),(0.3994,1.0010),(0.3999,0.9950),(0.4004,1.0030),(0.4009,1.0072),(0.4014,0.9985),(0.4019,1.0045),(0.4024,0.9960),(0.4029,1.0015),(0.4034,0.9995),(0.4039,1.0058),(0.4044,0.9978),(0.4049,1.0025)]

# transit model curve (shared flux profile, per-night times)
model_flux = [1.0, 1.0, 0.9990, 0.9980, 0.9965, 0.9943, 0.9935, 0.9929, 0.9925, 0.9919, 0.9916, 0.99145, 0.9914,
              0.99145, 0.9916, 0.9919, 0.9925, 0.9929, 0.9935, 0.9943, 0.9965, 0.9980, 0.9990, 1.0, 1.0]
sep16_model_t = [0.3433, 0.447, 0.4495, 0.4515, 0.4545, 0.4595, 0.462, 0.4645, 0.467, 0.477, 0.487, 0.497, 0.507,
                 0.517, 0.527, 0.537, 0.547, 0.5495, 0.552, 0.5545, 0.5595, 0.5625, 0.5645, 0.567, 0.674]
oct09a_model_t = [0.680, 0.7838, 0.7863, 0.7883, 0.7913, 0.7963, 0.7988, 0.8013, 0.8038, 0.8138, 0.8238, 0.8338, 0.8438,
                  0.8538, 0.8638, 0.8738, 0.8838, 0.8863, 0.8888, 0.8913, 0.8963, 0.8993, 0.9013, 0.9038, 1.007]
oct09b_model_t = [0.6805, 0.7838, 0.7863, 0.7883, 0.7913, 0.7963, 0.7988, 0.8013, 0.8038, 0.8138, 0.8238, 0.8338, 0.8438,
                  0.8538, 0.8638, 0.8738, 0.8838, 0.8863, 0.8888, 0.8913, 0.8963, 0.8993, 0.9013, 0.9038, 1.0105]
oct18_model_t = [0.256, 0.36, 0.3625, 0.3645, 0.3675, 0.3725, 0.375, 0.3775, 0.38, 0.39, 0.40, 0.41, 0.42,
                 0.43, 0.44, 0.45, 0.46, 0.4625, 0.465, 0.4675, 0.4725, 0.4755, 0.4775, 0.48, 0.5825]
oct21_model_t = [0.4463, 0.551, 0.5535, 0.5555, 0.5585, 0.5635, 0.566, 0.5685, 0.571, 0.581, 0.591, 0.601, 0.611,
                 0.621, 0.631, 0.641, 0.651, 0.6535, 0.656, 0.6585, 0.6635, 0.6665, 0.6685, 0.671, 0.7773]
nov06_model_t = [0.4037, 0.507, 0.5095, 0.5115, 0.5145, 0.5195, 0.522, 0.5245, 0.527, 0.537, 0.547, 0.557, 0.567,
                 0.577, 0.587, 0.597, 0.607, 0.6095, 0.612, 0.6145, 0.6195, 0.6225, 0.6245, 0.627, 0.730]
feb10_model_t = [0.148, 0.2515, 0.254, 0.256, 0.259, 0.264, 0.2665, 0.269, 0.2715, 0.2815, 0.2915, 0.3015, 0.3115,
                 0.3215, 0.3315, 0.3415, 0.3515, 0.354, 0.3565, 0.359, 0.364, 0.367, 0.369, 0.3715, 0.479]

titles = ["2007  Sep  16  \u2212  E.  Duran  0.6m", "2007  Oct  09  \u2212  V.  Cliffs  0.4m",
          "2007  Oct  09  \u2212  V.  Cliffs  0.6m", "2008  Oct  18  \u2212  E.  Duran  0.6m",
          "2008  Oct  21  \u2212  E.  Duran  0.6m", "2008  Nov  06  \u2212  E.  Duran  0.6m",
          "2008  Feb  10  \u2212  Wise  0.5m  clear"]
filters = ["I", "I", "R", "I", "I", "V", ""]
hjd_zero = ["2454360", "2454382", "2454382", "2454392", "2454395", "2454411", "2454507"]
xlims = [(0.3433, 0.674), (0.680, 1.007), (0.6805, 1.0105), (0.256, 0.5825),
         (0.4463, 0.7773), (0.4037, 0.730), (0.148, 0.479)]
points = [sep16_pts, oct09a_pts, oct09b_pts, oct18_pts, oct21_pts, nov06_pts, feb10_pts]
models = [sep16_model_t, oct09a_model_t, oct09b_model_t, oct18_model_t, oct21_model_t, nov06_model_t, feb10_model_t]
ylim = (0.9838, 1.0148)

# ---------------- figure ----------------
sns.set_style("ticks")
plt.rcParams['font.family'] = ['DejaVu Sans']
plt.rcParams['font.size'] = 15
for key in ['text.color', 'axes.labelcolor', 'xtick.color', 'ytick.color', 'axes.edgecolor']:
    plt.rcParams[key] = 'black'

W, H = 1211, 1190
fig = plt.figure(figsize=(W / 100, H / 100), dpi=100)

col_left = [121, 745]
ax_w = 445
ax_h = 182
row_bottom = [187, 499, 811, 1123]

for i in range(7):
    r, c = divmod(i, 2)
    x0 = col_left[c] / W
    y0 = 1 - row_bottom[r] / H
    ax = fig.add_axes([x0, y0, ax_w / W, ax_h / H])
    ts = [p[0] for p in points[i]]
    fs = [p[1] for p in points[i]]
    sns.lineplot(x=models[i], y=model_flux, ax=ax, color="black", linewidth=2.4,
                 estimator=None, sort=False, zorder=2)
    sns.scatterplot(x=ts, y=fs, ax=ax, color="black", s=13, linewidth=0, legend=False, zorder=3)
    ax.set_xlim(*xlims[i])
    ax.set_ylim(*ylim)

    ax.xaxis.set_major_locator(MultipleLocator(0.05))
    ax.xaxis.set_minor_locator(MultipleLocator(0.01))
    ax.xaxis.set_major_formatter(FormatStrFormatter('%.2f'))
    ax.yaxis.set_major_locator(MultipleLocator(0.005))
    ax.yaxis.set_minor_locator(MultipleLocator(0.00125))
    ax.yaxis.set_major_formatter(FormatStrFormatter('%.3f'))
    ax.tick_params(axis='both', which='both', direction='in', top=True, right=True,
                   colors='black', labelcolor='black', labelsize=15)
    ax.tick_params(axis='x', which='major', length=4, width=1, pad=12)
    ax.tick_params(axis='x', which='minor', length=2, width=1)
    ax.tick_params(axis='y', which='major', length=8, width=1, pad=6)
    ax.tick_params(axis='y', which='minor', length=4, width=1)
    for sp in ax.spines.values():
        sp.set_linewidth(1.0)
        sp.set_color('black')

    ax.set_xlabel("HJD  \u2212  " + hjd_zero[i], fontsize=15, labelpad=6, color='black')
    ax.set_ylabel("Relative flux", fontsize=15, color='black')
    ax.yaxis.set_label_coords(-92 / ax_w, 0.5)

    t = ax.text(0.058, 1 - 25 / ax_h, titles[i], transform=ax.transAxes,
                fontsize=15, ha='left', va='baseline', color='black')
    if filters[i]:
        ax.annotate(filters[i], xy=(1, 0), xycoords=t, xytext=(6, 0), textcoords='offset points',
                    ha='left', va='bottom', fontsize=16, fontfamily='DejaVu Serif',
                    style='italic', fontweight='bold', color='black')

fig.savefig("out.png", dpi=100)
